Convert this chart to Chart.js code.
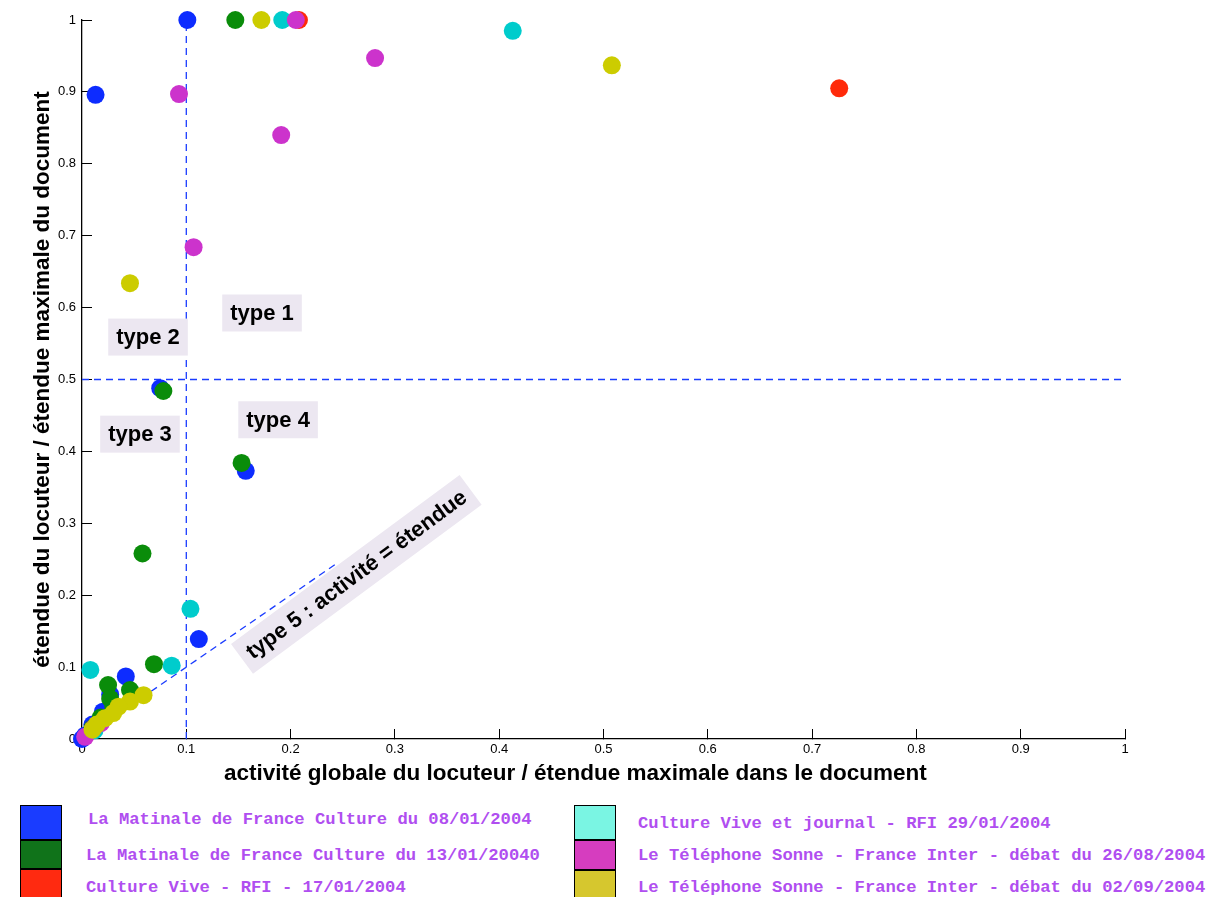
<!DOCTYPE html>
<html>
<head>
<meta charset="utf-8">
<script src="https://cdn.jsdelivr.net/npm/chart.js@4.4.0/dist/chart.umd.min.js"></script>
<style>
    body { margin: 0; background: #fff; width: 1210px; height: 897px; overflow: hidden; position: relative; }
    #chartBox { position: absolute; left: 0; top: 0; width: 1210px; height: 790px; }
    .swatch { position: absolute; border: 1.5px solid #000; box-sizing: border-box; }
    .legendText { position: absolute; font-family: 'Liberation Mono', 'Courier New', monospace; font-weight: bold; font-size: 17.2px; color: #b04ef0; white-space: nowrap; line-height: 20px; }
</style>
</head>
<body>
<div id="chartBox"><canvas id="chart" width="1210" height="790"></canvas></div>
<div id="legend"></div>
<script>
// series: activité globale (x) / étendue (y), both relative to document max
const seriesNames = [
    'La Matinale de France Culture du 08/01/2004',
    'La Matinale de France Culture du 13/01/20040',
    'Culture Vive - RFI - 17/01/2004',
    'Culture Vive et journal - RFI 29/01/2004',
    'Le Téléphone Sonne - France Inter - débat du 26/08/2004',
    'Le Téléphone Sonne - France Inter - débat du 02/09/2004'
];

const blueX = [0.101, 0.013, 0.075, 0.157, 0.112, 0.042, 0.027, 0.020, 0.010, 0.003, 0.000];
const blueY = [1.000, 0.896, 0.488, 0.373, 0.139, 0.087, 0.062, 0.038, 0.020, 0.005, 0.000];

const greenX = [0.147, 0.078, 0.153, 0.058, 0.069, 0.025, 0.046, 0.027, 0.030, 0.018, 0.010];
const greenY = [1.000, 0.484, 0.384, 0.258, 0.104, 0.075, 0.068, 0.056, 0.045, 0.030, 0.015];

const redX = [0.208, 0.726];
const redY = [1.000, 0.905];

const cyanX = [0.192, 0.413, 0.104, 0.086, 0.008, 0.012];
const cyanY = [1.000, 0.985, 0.181, 0.102, 0.096, 0.012];

const magentaX = [0.205, 0.281, 0.093, 0.191, 0.107, 0.003, 0.011, 0.018];
const magentaY = [1.000, 0.947, 0.897, 0.840, 0.684, 0.003, 0.015, 0.022];

const yellowX = [0.172, 0.508, 0.046, 0.059, 0.046, 0.035, 0.030, 0.022, 0.014, 0.010];
const yellowY = [1.000, 0.937, 0.634, 0.061, 0.052, 0.045, 0.036, 0.029, 0.020, 0.013];

// guide lines
const activityLimit = 0.1;
const extentLimit = 0.5;
const diagonalEnd = 0.245;

// region labels [text, x, y, angle]
const regionLabels = [
    ['type 1', 0.1726, 0.5925, 0],
    ['type 2', 0.0633, 0.559, 0],
    ['type 3', 0.0556, 0.424, 0],
    ['type 4', 0.188, 0.444, 0],
    ['type 5 : activité = étendue', 0.263, 0.229, -36.5]
];

const tickValues = [0, 0.1, 0.2, 0.3, 0.4, 0.5, 0.6, 0.7, 0.8, 0.9, 1];

const markerColors = ['#0d2cff', '#0a8c0a', '#ff2a0a', '#00cccc', '#cc33cc', '#cccc00'];
const swatchColors = ['#1a3cff', '#10731a', '#ff2a10', '#7af5e3', '#d63dbf', '#d6c72e'];

const xs = [blueX, greenX, redX, cyanX, magentaX, yellowX];
const ys = [blueY, greenY, redY, cyanY, magentaY, yellowY];

const toPoints = (a, b) => a.map((v, i) => ({ x: v, y: b[i] }));

const datasets = xs.map((arr, i) => ({
    label: seriesNames[i],
    data: toPoints(arr, ys[i]),
    backgroundColor: markerColors[i],
    borderWidth: 0,
    pointRadius: 9,
    pointHoverRadius: 9,
    clip: false,
    order: 10 - i // later series drawn on top, like matlab
}));

const dashed = (pts) => ({
    type: 'line',
    data: pts,
    borderColor: '#1a3cff',
    borderWidth: 1.3,
    borderDash: [7, 5],
    pointRadius: 0,
    fill: false,
    order: 20
});

datasets.push(dashed([{ x: activityLimit, y: 0 }, { x: activityLimit, y: 1 }]));
datasets.push(dashed([{ x: 0, y: extentLimit }, { x: 1, y: extentLimit }]));
datasets.push(dashed([{ x: 0, y: 0 }, { x: diagonalEnd, y: diagonalEnd }]));

const labelBoxes = {
    id: 'labelBoxes',
    afterDatasetsDraw(chart) {
        const { ctx, scales } = chart;
        ctx.save();
        ctx.font = "bold 22px 'Liberation Sans', Arial, sans-serif";
        ctx.textAlign = 'center';
        ctx.textBaseline = 'middle';
        regionLabels.forEach(([text, vx, vy, angle]) => {
            const px = scales.x.getPixelForValue(vx);
            const py = scales.y.getPixelForValue(vy);
            const w = ctx.measureText(text).width + 16;
            const h = 37;
            ctx.save();
            ctx.translate(px, py);
            ctx.rotate(angle * Math.PI / 180);
            ctx.fillStyle = '#ece7f1';
            ctx.fillRect(-w / 2, -h / 2, w, h);
            ctx.fillStyle = '#000';
            ctx.fillText(text, 0, 1);
            ctx.restore();
        });
        ctx.restore();
    }
};

const tickFont = { family: "'Liberation Sans', Arial, sans-serif", size: 13 };
const titleFont = { family: "'Liberation Sans', Arial, sans-serif", size: 22.5, weight: 'bold' };

const axis = (extra) => Object.assign({
    type: 'linear',
    min: 0,
    max: 1,
    afterBuildTicks: (scale) => { scale.ticks = tickValues.map(v => ({ value: v })); },
    grid: { drawOnChartArea: false, drawTicks: true, tickLength: -10, color: '#000', lineWidth: 1 },
    border: { display: true, color: '#000', width: 1.3 }
}, extra);

const fmt = (v) => String(Math.round(v * 10) / 10);

new Chart(document.getElementById('chart'), {
    type: 'scatter',
    data: { datasets: datasets },
    options: {
        responsive: false,
        animation: false,
        layout: { autoPadding: false, padding: { left: 0, right: 85, top: 20, bottom: 0 } },
        plugins: { legend: { display: false }, tooltip: { enabled: false } },
        scales: {
            x: axis({
                position: 'bottom',
                ticks: { padding: 13, color: '#000', font: tickFont, maxRotation: 0, autoSkip: false, callback: fmt },
                // trailing spaces shift the centred title left, as in the original figure
                title: { display: true, text: 'activité globale du locuteur / étendue maximale dans le document\u00a0\u00a0\u00a0\u00a0\u00a0\u00a0\u00a0\u00a0\u00a0', color: '#000', font: titleFont, padding: { top: 0, bottom: 3 } },
                afterFit: (scale) => { scale.height = 51; scale.paddingLeft = 0; scale.paddingRight = 0; }
            }),
            y: axis({
                position: 'left',
                ticks: { padding: 16, color: '#000', font: tickFont, autoSkip: false, callback: fmt },
                title: { display: true, text: 'étendue du locuteur / étendue maximale du document', color: '#000', font: titleFont, padding: { top: 29, bottom: 0 } },
                afterFit: (scale) => { scale.width = 82; scale.paddingTop = 0; scale.paddingBottom = 0; }
            })
        }
    },
    plugins: [labelBoxes]
});

// legend below the plot, two columns of three
const legendSpots = [
    [20, 805, 35, 88, 820],
    [20, 840, 29, 86, 856],
    [20, 869, 30, 86, 888],
    [574, 805, 35, 638, 824],
    [574, 840, 30, 638, 856],
    [574, 870, 29, 638, 888]
];
const legend = document.getElementById('legend');
seriesNames.forEach((name, i) => {
    const [sx, sy, sh, tx, ty] = legendSpots[i];
    const sw = document.createElement('div');
    sw.className = 'swatch';
    sw.style.cssText = `left:${sx}px;top:${sy}px;width:42px;height:${sh}px;background:${swatchColors[i]}`;
    legend.appendChild(sw);
    const t = document.createElement('div');
    t.className = 'legendText';
    t.style.cssText = `left:${tx}px;top:${ty - 10}px`;
    t.textContent = name;
    legend.appendChild(t);
});
</script>
</body>
</html>
